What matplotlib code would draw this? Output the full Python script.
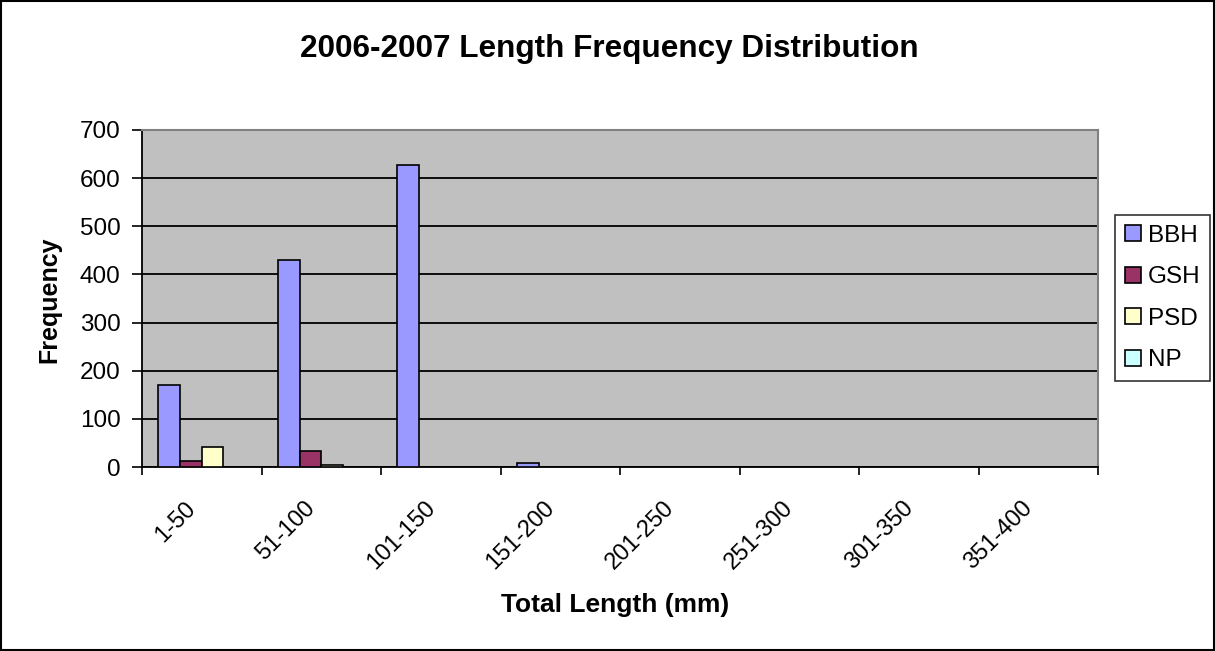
import matplotlib
matplotlib.use("Agg")
import matplotlib.pyplot as plt
import numpy as np
from matplotlib.patches import Rectangle
from matplotlib.transforms import ScaledTranslation

plt.rcParams['font.family'] = ['Liberation Sans', 'DejaVu Sans']

categories = ["1-50", "51-100", "101-150", "151-200", "201-250", "251-300", "301-350", "351-400"]
series_names = ["BBH", "GSH", "PSD", "NP"]
bbh = [170, 430, 628, 8, 0, 0, 0, 0]
gsh = [12, 33, 0, 0, 0, 0, 0, 0]
psd = [42, 5, 0, 0, 0, 0, 0, 0]
np_vals = [0, 0, 0, 0, 0, 0, 0, 0]
colors = ["#9999FF", "#993366", "#FFFFCC", "#CCFFFF"]
yticks = [0, 100, 200, 300, 400, 500, 600, 700]

W, H = 1215, 651
fig = plt.figure(figsize=(W / 100, H / 100), dpi=100)
ax = fig.add_axes([142 / W, 1 - 467 / H, (1098 - 142) / W, (467 - 130) / H])
ax.set_facecolor("#C0C0C0")

n = len(series_names)
bw = 1.0 / (n + 1.5)
x = np.arange(len(categories))
all_series = [bbh, gsh, psd, np_vals]
handles = []
for i, (name, vals, c) in enumerate(zip(series_names, all_series, colors)):
    pos = x + 0.75 * bw + i * bw + bw / 2
    b = ax.bar(pos, vals, width=bw, color=c, edgecolor="black", linewidth=1.2, label=name, zorder=3)
    handles.append(b)

ax.set_xlim(0, len(categories))
ax.set_ylim(0, 700)
ax.set_yticks(yticks)
ax.set_yticklabels([str(v) for v in yticks], fontsize=17.5)
ax.yaxis.grid(True, color="black", linewidth=1.3, zorder=1)
ax.set_axisbelow(True)

ax.set_xticks(x + 0.5)
ax.set_xticklabels(categories, rotation=45, ha="right", va="center", rotation_mode="anchor", fontsize=17)
ax.tick_params(axis="x", which="major", length=0, pad=27.4)
offset = ScaledTranslation(-0.09, 0, fig.dpi_scale_trans)
for lbl in ax.get_xticklabels():
    lbl.set_transform(lbl.get_transform() + offset)
ax.set_xticks(np.arange(len(categories) + 1), minor=True)
ax.tick_params(axis="x", which="minor", length=6, width=1.2, direction="out")
ax.tick_params(axis="y", length=7.5, width=1.2, direction="out", pad=8)

for side in ["top", "right"]:
    ax.spines[side].set_color("#808080")
    ax.spines[side].set_linewidth(1.5)
for side in ["left", "bottom"]:
    ax.spines[side].set_color("black")
    ax.spines[side].set_linewidth(1.3)

ax.set_xlabel("Total Length (mm)", fontsize=19, fontweight="bold", va="center")
ax.xaxis.set_label_coords((615 - 142) / 956, (467 - 605) / 337)
ax.set_ylabel("Frequency", fontsize=18, fontweight="bold", va="center")
ax.yaxis.set_label_coords((49 - 142) / 956, 0.5 - (300 - 298.5) / 337)

fig.text(609 / W, 1 - 49 / H, "2006-2007 Length Frequency Distribution",
         ha="center", va="center", fontsize=22.7, fontweight="bold")

leg = ax.legend(handles=handles, labels=series_names, loc="center left",
                bbox_to_anchor=(1115 / W, 1 - 298 / H), bbox_transform=fig.transFigure,
                fontsize=17.5, frameon=True, fancybox=False, edgecolor="black",
                handlelength=0.65, handleheight=0.65, handletextpad=0.3, labelspacing=0.8,
                borderpad=0.4, borderaxespad=0)
leg.get_frame().set_linewidth(1.2)

fig.patches.append(Rectangle((1 / W, 1 / H), 1 - 2 / W, 1 - 2 / H, transform=fig.transFigure,
                             fill=False, edgecolor="black", linewidth=1.5))

fig.savefig("out.png", dpi=100, facecolor="white")
